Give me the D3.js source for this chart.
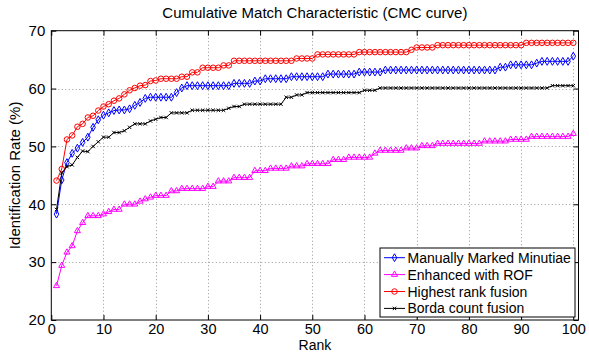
<!DOCTYPE html>
<html>
<head>
<meta charset="utf-8">
<script src="https://cdn.jsdelivr.net/npm/d3@7"></script>
<style>
  body { margin: 0; background: #fff; }
  svg { font-family: "Liberation Sans", Arial, Helvetica, sans-serif; }
</style>
</head>
<body>
<div id="chart"></div>
<script>
// ranks 1..100 on the x axis
const ranks = d3.range(1, 101);
const xTicks = [0, 10, 20, 30, 40, 50, 60, 70, 80, 90, 100];
const yTicks = [20, 30, 40, 50, 60, 70];
const seriesNames = ['Manually Marked Minutiae', 'Enhanced with ROF', 'Highest rank fusion', 'Borda count fusion'];

const manual = [
  38.3, 44.2, 47.2, 48.8, 49.7, 50.7, 51.6, 53.3, 54.6, 55.4,
  55.8, 56.2, 56.3, 56.3, 56.5, 57.1, 57.6, 58.3, 58.5, 58.5,
  58.5, 58.5, 58.5, 59.3, 60.1, 60.5, 60.5, 60.5, 60.5, 60.5,
  60.5, 60.5, 60.5, 60.5, 60.9, 60.9, 60.9, 60.9, 61.3, 61.3,
  61.7, 61.7, 61.7, 61.7, 61.7, 62.05, 62.05, 62.05, 62.05, 62.05,
  62.05, 62.05, 62.5, 62.5, 62.5, 62.5, 62.5, 62.5, 62.85, 62.85,
  62.85, 62.85, 62.85, 63.2, 63.2, 63.2, 63.2, 63.2, 63.2, 63.2,
  63.2, 63.2, 63.2, 63.2, 63.2, 63.2, 63.2, 63.2, 63.2, 63.2,
  63.2, 63.2, 63.2, 63.2, 63.2, 63.7, 63.7, 64.1, 64.1, 64.1,
  64.1, 64.1, 64.4, 64.7, 64.7, 64.7, 64.7, 64.7, 64.7, 65.6
];
const rof = [
  25.9, 29.4, 31.7, 32.8, 35.4, 36.8, 38.0, 38.0, 38.0, 38.3,
  38.7, 39.1, 39.1, 40.0, 40.0, 40.0, 40.5, 40.9, 41.2, 41.5,
  41.5, 41.5, 42.3, 42.3, 42.7, 42.7, 42.7, 42.7, 42.7, 43.05,
  43.05, 44.0, 44.0, 44.0, 44.6, 44.6, 44.6, 44.6, 45.8, 45.8,
  45.8, 46.2, 46.2, 46.2, 46.2, 46.6, 46.6, 46.6, 47.0, 47.0,
  47.0, 47.0, 47.0, 47.7, 47.7, 47.7, 48.1, 48.1, 48.1, 48.1,
  48.1, 48.8, 49.3, 49.3, 49.3, 49.3, 49.3, 49.7, 49.7, 49.7,
  50.1, 50.1, 50.1, 50.5, 50.5, 50.5, 50.5, 50.5, 50.5, 50.5,
  50.5, 50.5, 50.9, 50.9, 50.9, 50.9, 50.9, 51.2, 51.2, 51.2,
  51.2, 51.7, 51.7, 51.7, 51.7, 51.7, 51.7, 51.7, 51.7, 52.2
];
const highest = [
  44.1, 46.1, 51.2, 51.9, 53.4, 53.9, 55.0, 55.3, 56.2, 56.9,
  57.3, 57.9, 58.3, 59.0, 59.7, 60.1, 60.5, 60.6, 61.3, 61.4,
  61.7, 61.7, 61.7, 61.7, 62.05, 62.05, 62.8, 62.8, 63.6, 63.6,
  63.6, 63.6, 64.0, 64.0, 64.8, 64.8, 64.8, 64.8, 64.8, 64.8,
  64.8, 64.8, 64.8, 64.8, 64.8, 64.8, 65.2, 65.2, 65.2, 65.2,
  65.9, 65.9, 65.9, 65.9, 65.9, 65.9, 65.9, 65.9, 66.3, 66.3,
  66.3, 66.3, 66.3, 66.3, 66.3, 66.3, 66.3, 66.3, 66.7, 67.1,
  67.1, 67.1, 67.1, 67.5, 67.5, 67.5, 67.5, 67.5, 67.5, 67.5,
  67.5, 67.5, 67.5, 67.5, 67.5, 67.5, 67.5, 67.5, 67.5, 67.5,
  67.9, 67.9, 67.9, 67.9, 67.9, 67.9, 67.9, 67.9, 67.9, 67.9
];
const borda = [
  39.1, 45.4, 46.5, 46.8, 48.1, 49.2, 49.1, 50.0, 50.8, 51.6,
  51.6, 52.4, 52.4, 52.7, 53.3, 53.9, 53.9, 53.9, 54.4, 54.7,
  55.0, 55.0, 55.8, 55.8, 55.8, 55.8, 56.25, 56.25, 56.25, 56.25,
  56.25, 56.25, 56.25, 56.6, 56.9, 56.9, 57.3, 57.3, 57.3, 57.3,
  57.3, 57.3, 57.3, 57.3, 58.5, 58.5, 58.9, 58.9, 59.3, 59.3,
  59.3, 59.3, 59.3, 59.3, 59.3, 59.3, 59.3, 59.3, 59.3, 59.7,
  59.7, 59.7, 60.1, 60.1, 60.1, 60.1, 60.1, 60.1, 60.1, 60.1,
  60.1, 60.1, 60.1, 60.1, 60.1, 60.1, 60.1, 60.1, 60.1, 60.1,
  60.1, 60.1, 60.1, 60.1, 60.1, 60.1, 60.1, 60.1, 60.1, 60.1,
  60.1, 60.1, 60.1, 60.1, 60.1, 60.5, 60.5, 60.5, 60.5, 60.5
];

const width = 589, height = 353;
const plotLeft = 51.3, plotRight = 578.5, plotTop = 30.7, plotBottom = 320;

const svg = d3.select('#chart').append('svg')
  .attr('width', width).attr('height', height);

const x = d3.scaleLinear().domain([0, 101]).range([plotLeft, plotRight]);
const y = d3.scaleLinear().domain([20, 70]).range([plotBottom, plotTop]);

// dotted grid
const grid = svg.append('g').attr('stroke', '#999').attr('stroke-width', 1)
  .attr('stroke-dasharray', '1,2.5');
grid.selectAll('.gx').data(xTicks.filter(d => d > 0)).enter().append('line')
  .attr('x1', d => Math.round(x(d)) + 0.5).attr('x2', d => Math.round(x(d)) + 0.5)
  .attr('y1', plotTop).attr('y2', plotBottom);
grid.selectAll('.gy').data(yTicks.filter(d => d > 20 && d < 70)).enter().append('line')
  .attr('y1', d => Math.round(y(d)) + 0.5).attr('y2', d => Math.round(y(d)) + 0.5)
  .attr('x1', plotLeft).attr('x2', plotRight);

// axes with inward ticks on all sides
const tickLen = 5;
svg.append('g').attr('transform', `translate(0,${plotBottom})`)
  .call(d3.axisBottom(x).tickValues(xTicks).tickSizeInner(-tickLen).tickSizeOuter(0).tickPadding(3.7))
  .call(g => g.select('.domain').remove())
  .call(g => g.selectAll('text').attr('font-size', 14.5).attr('fill', '#000').attr('font-family', null));
svg.append('g').attr('transform', `translate(0,${plotTop})`)
  .call(d3.axisTop(x).tickValues(xTicks).tickSizeInner(-tickLen).tickSizeOuter(0).tickFormat(''))
  .call(g => g.select('.domain').remove());
svg.append('g').attr('transform', `translate(${plotLeft},0)`)
  .call(d3.axisLeft(y).tickValues(yTicks).tickSizeInner(-tickLen).tickSizeOuter(0).tickPadding(6))
  .call(g => g.select('.domain').remove())
  .call(g => g.selectAll('text').attr('font-size', 15).attr('fill', '#000').attr('font-family', null));
svg.append('g').attr('transform', `translate(${plotRight},0)`)
  .call(d3.axisRight(y).tickValues(yTicks).tickSizeInner(-tickLen).tickSizeOuter(0).tickFormat(''))
  .call(g => g.select('.domain').remove());

svg.append('rect')
  .attr('x', plotLeft).attr('y', plotTop)
  .attr('width', plotRight - plotLeft).attr('height', plotBottom - plotTop)
  .attr('fill', 'none').attr('stroke', '#000').attr('stroke-width', 1);

// series
const series = [
  { name: seriesNames[0], values: manual, color: '#0000ff', symbol: d3.symbolDiamond, size: 18 },
  { name: seriesNames[1], values: rof, color: '#ff00ff', symbol: d3.symbolTriangle, size: 16 },
  { name: seriesNames[2], values: highest, color: '#ff0000', symbol: d3.symbolCircle, size: 24 },
  { name: seriesNames[3], values: borda, color: '#000000', symbol: d3.symbolX, size: 9 }
];

const line = d3.line().x((d, i) => x(ranks[i])).y(d => y(d));

series.forEach(s => {
  const g = svg.append('g');
  g.append('path').datum(s.values)
    .attr('d', line).attr('fill', 'none')
    .attr('stroke', s.color).attr('stroke-width', 1);
  g.selectAll('path.m').data(s.values).enter().append('path')
    .attr('class', 'm')
    .attr('transform', (d, i) => `translate(${x(ranks[i])},${y(d)})`)
    .attr('d', d3.symbol().type(s.symbol).size(s.size))
    .attr('fill', 'none').attr('stroke', s.color).attr('stroke-width', 1);
});

// legend
const lg = svg.append('g').attr('transform', 'translate(380,248)');
lg.append('rect').attr('x', 0).attr('y', 0).attr('width', 195).attr('height', 69)
  .attr('fill', '#fff').attr('stroke', '#000').attr('stroke-width', 1);
series.forEach((s, i) => {
  const yy = 9.7 + i * 16.9;
  lg.append('line').attr('x1', 4).attr('x2', 25).attr('y1', yy).attr('y2', yy)
    .attr('stroke', s.color).attr('stroke-width', 1);
  lg.append('path').attr('transform', `translate(14.5,${yy})`)
    .attr('d', d3.symbol().type(s.symbol).size(s.size))
    .attr('fill', 'none').attr('stroke', s.color).attr('stroke-width', 1);
  lg.append('text').attr('x', 27.5).attr('y', yy + 5)
    .attr('font-size', 14).text(s.name);
});

// titles
svg.append('text').attr('x', (plotLeft + plotRight) / 2).attr('y', 18)
  .attr('text-anchor', 'middle').attr('font-size', 15)
  .text('Cumulative Match Characteristic (CMC curve)');
svg.append('text').attr('x', (plotLeft + plotRight) / 2).attr('y', 349.9)
  .attr('text-anchor', 'middle').attr('font-size', 14).text('Rank');
svg.append('text')
  .attr('transform', `translate(20,${(plotTop + plotBottom) / 2}) rotate(-90)`)
  .attr('text-anchor', 'middle').attr('font-size', 15)
  .text('Identification Rate (%)');
</script>
</body>
</html>
